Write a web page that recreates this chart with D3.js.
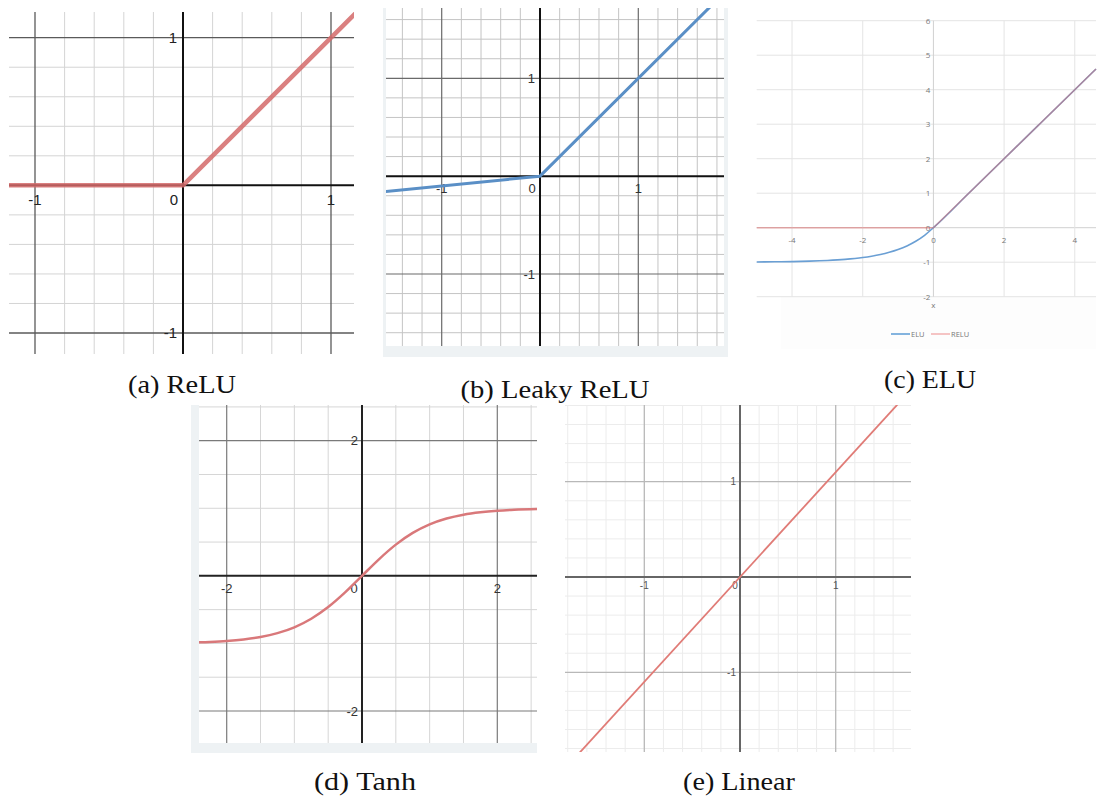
<!DOCTYPE html>
<html>
<head>
<meta charset="utf-8">
<script src="https://cdn.jsdelivr.net/npm/d3@7"></script>
<style>
  html, body { margin: 0; padding: 0; background: #fff; }
  svg { display: block; }
</style>
</head>
<body>
<svg id="chart" width="1100" height="798"></svg>
<script>
// ---------------- DATA ----------------
const captions = ["(a) ReLU", "(b) Leaky ReLU", "(c) ELU", "(d) Tanh", "(e) Linear"];

// (a) ReLU
const reluX = [-1.3, 0, 1.3];
const reluY = [0, 0, 1.3];
const ticksA = [-1, 1];

// (b) Leaky ReLU
const leakyX = [-1.7, 0, 2.0];
const leakyY = [-0.17, 0, 2.0];
const ticksB = [-1, 1];

// (c) ELU vs RELU
const eluX = [-5, -4.5, -4, -3.5, -3, -2.5, -2, -1.75, -1.5, -1.25, -1, -0.75, -0.5, -0.25, 0, 1, 2, 3, 4, 4.6];
const eluY = [-0.993, -0.989, -0.982, -0.97, -0.95, -0.918, -0.865, -0.826, -0.777, -0.713, -0.632, -0.528, -0.393, -0.221, 0, 1, 2, 3, 4, 4.6];
const reluCX = [-5, 0, 4.6];
const reluCY = [0, 0, 4.6];
const ticksCX = [-4, -2, 0, 2, 4];
const ticksCY = [-2, -1, 0, 1, 2, 3, 4, 5, 6];
const legendC = ["ELU", "RELU"];

// (d) Tanh
const tanhX = [-2.5, -2.25, -2, -1.75, -1.5, -1.25, -1, -0.75, -0.5, -0.25, 0, 0.25, 0.5, 0.75, 1, 1.25, 1.5, 1.75, 2, 2.25, 2.6];
const tanhY = [-0.987, -0.978, -0.964, -0.941, -0.905, -0.848, -0.762, -0.635, -0.462, -0.245, 0, 0.245, 0.462, 0.635, 0.762, 0.848, 0.905, 0.941, 0.964, 0.978, 0.989];
const ticksD = [-2, 2];

// (e) Linear
const linearX = [-1.9, 1.9];
const linearY = [-2.09, 2.09];
const ticksE = [-1, 1];

// ---------------- DRAW ----------------
const svg = d3.select("#chart");
const sans = "'Liberation Sans', Arial, sans-serif";

function near(v, step) { return Math.abs(v / step - Math.round(v / step)) < 1e-6; }

function gridPanel(o) {
  const g = svg.append("g");
  if (o.frame) {
    g.append("rect").attr("x", o.frame[0]).attr("y", o.frame[1])
      .attr("width", o.frame[2] - o.frame[0]).attr("height", o.frame[3] - o.frame[1])
      .attr("fill", "#eef2f4");
    g.append("rect").attr("x", o.box[0]).attr("y", o.box[1])
      .attr("width", o.box[2] - o.box[0]).attr("height", o.box[3] - o.box[1])
      .attr("fill", "#fff");
  }
  const xs = d3.scaleLinear().domain(o.xd).range(o.xr);
  const ys = d3.scaleLinear().domain(o.yd).range(o.yr);
  const [bx0, by0, bx1, by1] = o.box;
  const xmin = xs.invert(bx0), xmax = xs.invert(bx1);
  const ymin = ys.invert(by1), ymax = ys.invert(by0);

  const xv = d3.range(Math.ceil(xmin / o.minor), Math.floor(xmax / o.minor) + 1).map(k => k * o.minor);
  const yv = d3.range(Math.ceil(ymin / o.minor), Math.floor(ymax / o.minor) + 1).map(k => k * o.minor);

  // minor first, then major
  [false, true].forEach(maj => {
    g.selectAll(null).data(xv.filter(v => Math.abs(v) > 1e-6 && near(v, o.major) === maj))
      .join("line")
      .attr("x1", d => xs(d)).attr("x2", d => xs(d))
      .attr("y1", by0).attr("y2", by1)
      .attr("stroke", maj ? o.majorColor : o.minorColor)
      .attr("stroke-width", maj ? o.majorW : o.minorW);
    g.selectAll(null).data(yv.filter(v => Math.abs(v) > 1e-6 && near(v, o.major) === maj))
      .join("line")
      .attr("y1", d => ys(d)).attr("y2", d => ys(d))
      .attr("x1", bx0).attr("x2", bx1)
      .attr("stroke", maj ? o.majorColor : o.minorColor)
      .attr("stroke-width", maj ? o.majorW : o.minorW);
  });
  // axes
  g.append("line").attr("x1", bx0).attr("x2", bx1).attr("y1", ys(0)).attr("y2", ys(0))
    .attr("stroke", o.axisColor).attr("stroke-width", o.axisW);
  g.append("line").attr("x1", xs(0)).attr("x2", xs(0)).attr("y1", by0).attr("y2", by1)
    .attr("stroke", o.axisColor).attr("stroke-width", o.axisW);

  // clip
  const cid = "clip" + Math.round(bx0);
  svg.append("clipPath").attr("id", cid).append("rect")
    .attr("x", bx0).attr("y", by0).attr("width", bx1 - bx0).attr("height", by1 - by0);

  // labels
  const lab = g.append("g").attr("font-family", sans).attr("font-size", o.fs).attr("fill", o.labColor);
  lab.selectAll(null).data(o.ticks).join("text")
    .attr("x", d => xs(d)).attr("y", ys(0) + o.xLabDy)
    .attr("text-anchor", "middle").text(d => d < 0 ? "-" + Math.abs(d) : d);
  lab.append("text").attr("x", xs(0) + o.zeroDx).attr("y", ys(0) + o.xLabDy)
    .attr("text-anchor", "middle").text("0");
  lab.selectAll(null).data(o.ticks).join("text")
    .attr("x", xs(0) + o.yLabDx).attr("y", d => ys(d)).attr("dy", "0.35em")
    .attr("text-anchor", "end").text(d => d < 0 ? "-" + Math.abs(d) : d);

  // curve
  const pts = d3.zip(o.lx, o.ly);
  svg.append("path").datum(pts)
    .attr("clip-path", `url(#${cid})`)
    .attr("d", d3.line().x(d => xs(d[0])).y(d => ys(d[1])).curve(o.curve || d3.curveLinear))
    .attr("fill", "none").attr("stroke", o.color).attr("stroke-width", o.lw)
    .attr("stroke-opacity", o.op || 1).attr("stroke-linecap", "butt").attr("stroke-linejoin", "round");
}

// (a) ReLU
gridPanel({
  box: [9, 12, 354, 354], xd: [-1, 1], xr: [35, 331], yd: [-1, 1], yr: [333, 37.7],
  minor: 0.2, major: 1, minorColor: "#d4d4d4", majorColor: "#5a5a5a", minorW: 1, majorW: 1.3,
  axisColor: "#111", axisW: 2, fs: 15, labColor: "#222", ticks: ticksA,
  xLabDy: 20, zeroDx: -9, yLabDx: -6,
  lx: reluX, ly: reluY, color: "#d46a6a", lw: 4.5, op: 0.85
});

// (b) Leaky ReLU
gridPanel({
  frame: [383, 8, 728, 357],
  box: [386, 8, 724, 346], xd: [-1, 1], xr: [441.7, 638.3], yd: [-1, 1], yr: [274, 78.3],
  minor: 0.2, major: 1, minorColor: "#c4c4c4", majorColor: "#6a6a6a", minorW: 1, majorW: 1.2,
  axisColor: "#111", axisW: 2, fs: 13, labColor: "#333", ticks: ticksB,
  xLabDy: 17, zeroDx: -8, yLabDx: -5,
  lx: leakyX, ly: leakyY, color: "#5a8fc6", lw: 3
});

// (d) Tanh
gridPanel({
  frame: [191, 405, 537, 753],
  box: [199, 405, 537, 743], xd: [-2, 2], xr: [226.7, 497.3], yd: [-2, 2], yr: [711, 440.7],
  minor: 0.5, major: 2, minorColor: "#d6d6d6", majorColor: "#7a7a7a", minorW: 1, majorW: 1.2,
  axisColor: "#222", axisW: 2, fs: 13, labColor: "#333", ticks: ticksD,
  xLabDy: 17, zeroDx: -8, yLabDx: -4,
  lx: tanhX, ly: tanhY, color: "#d9787a", lw: 2.5, curve: d3.curveMonotoneX
});

// (e) Linear
gridPanel({
  box: [565, 405, 911, 752], xd: [-1, 1], xr: [644.3, 835.7], yd: [-1, 1], yr: [672.3, 481.7],
  minor: 0.2, major: 1, minorColor: "#ececec", majorColor: "#b8b8b8", minorW: 1, majorW: 1.3,
  axisColor: "#666", axisW: 2, fs: 10, labColor: "#555", ticks: ticksE,
  xLabDy: 12, zeroDx: -5, yLabDx: -4,
  lx: linearX, ly: linearY, color: "#e07b76", lw: 1.8
});

// (c) ELU (Excel-style)
(function () {
  const g = svg.append("g");
  const xs = d3.scaleLinear().domain([-5, 4.6]).range([756.7, 1096]);
  const ys = d3.scaleLinear().domain([-2, 6]).range([296.7, 20.7]);
  g.append("rect").attr("x", 781).attr("y", 297).attr("width", 315).attr("height", 52).attr("fill", "#fdfdfd");
  g.selectAll(null).data(ticksCY).join("line")
    .attr("x1", xs(-5)).attr("x2", xs(4.6)).attr("y1", d => ys(d)).attr("y2", d => ys(d))
    .attr("stroke", d => d === 0 ? "#d0d0d0" : "#e4e4e4").attr("stroke-width", 1);
  g.selectAll(null).data(ticksCX).join("line")
    .attr("x1", d => xs(d)).attr("x2", d => xs(d)).attr("y1", ys(6)).attr("y2", ys(-2))
    .attr("stroke", d => d === 0 ? "#d0d0d0" : "#e4e4e4").attr("stroke-width", 1);
  const lab = g.append("g").attr("font-family", "'Open Sans', 'Noto Sans', sans-serif")
    .attr("font-size", 8).attr("fill", "#777");
  lab.selectAll(null).data(ticksCY).join("text")
    .attr("x", xs(0) - 3).attr("y", d => ys(d)).attr("dy", "0.35em").attr("text-anchor", "end")
    .text(d => d);
  lab.selectAll(null).data(ticksCX).join("text")
    .attr("x", d => xs(d)).attr("y", ys(0) + 15).attr("text-anchor", "middle").text(d => d);
  lab.append("text").attr("x", xs(0)).attr("y", 308).attr("text-anchor", "middle").text("x");

  const line = d3.line().x(d => xs(d[0])).y(d => ys(d[1])).curve(d3.curveMonotoneX);
  svg.append("path").datum(d3.zip(eluX, eluY)).attr("d", line)
    .attr("fill", "none").attr("stroke", "#6a9fd4").attr("stroke-width", 1.6);
  svg.append("path").datum(d3.zip(reluCX, reluCY)).attr("d", d3.line().x(d => xs(d[0])).y(d => ys(d[1])))
    .attr("fill", "none").attr("stroke", "#e06a6a").attr("stroke-opacity", 0.5).attr("stroke-width", 1.6);

  // legend
  const colors = ["#5b9bd5", "#f2b0b0"];
  const lx = [891, 931];
  const lg = svg.append("g").attr("font-family", "'Open Sans', 'Noto Sans', sans-serif")
    .attr("font-size", 7.5).attr("fill", "#777");
  legendC.forEach((name, i) => {
    lg.append("line").attr("x1", lx[i]).attr("x2", lx[i] + 19).attr("y1", 334).attr("y2", 334)
      .attr("stroke", colors[i]).attr("stroke-width", 1.5);
    lg.append("text").attr("x", lx[i] + 20).attr("y", 334).attr("dy", "0.35em").text(name);
  });
})();

// captions
const capPos = [[182, 393], [555, 398], [930, 388], [365, 790], [739, 790]];
const capW = [108, 189, 92, 102, 112];
svg.append("g").attr("font-family", "'Liberation Serif', 'Times New Roman', serif")
  .attr("font-size", 26).attr("fill", "#111")
  .selectAll(null).data(captions).join("text")
  .attr("x", (d, i) => capPos[i][0]).attr("y", (d, i) => capPos[i][1])
  .attr("text-anchor", "middle")
  .attr("textLength", (d, i) => capW[i]).attr("lengthAdjust", "spacingAndGlyphs")
  .text(d => d);
</script>
</body>
</html>
